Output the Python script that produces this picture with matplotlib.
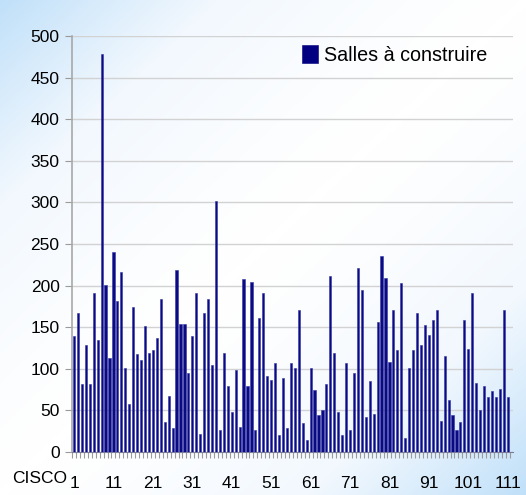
import numpy as np
import matplotlib.pyplot as plt
from matplotlib.colors import LinearSegmentedColormap

# Data (one bar per site, 1..111)
salles = [139, 167, 82, 129, 82, 191, 135, 478, 201, 113,
          240, 182, 216, 101, 58, 174, 118, 111, 151, 119,
          123, 137, 184, 36, 67, 29, 219, 154, 154, 95,
          139, 191, 22, 167, 184, 105, 302, 26, 119, 79,
          48, 98, 30, 208, 79, 204, 26, 161, 191, 91,
          86, 107, 20, 89, 29, 107, 101, 171, 35, 14,
          101, 74, 44, 50, 82, 212, 119, 48, 20, 107,
          26, 95, 221, 195, 42, 85, 46, 156, 236, 209,
          108, 171, 122, 203, 17, 101, 122, 167, 128, 153,
          141, 159, 171, 37, 115, 63, 44, 26, 36, 159,
          124, 191, 83, 50, 79, 66, 73, 66, 76, 171, 66]
sites = np.arange(1, len(salles) + 1)
tick_sites = list(range(1, 112, 10))
y_ticks = list(range(0, 501, 50))

plt.rcParams['font.family'] = ['Liberation Sans', 'DejaVu Sans']

fig = plt.figure(figsize=(5.26, 4.95), dpi=100)

# diagonal blue-white-blue background
bg = fig.add_axes([0, 0, 1, 1], zorder=0)
xx, yy = np.meshgrid(np.linspace(0, 1, 300), np.linspace(0, 1, 300))
t = np.abs((xx + yy) / 2 - 0.5) * 2
cmap = LinearSegmentedColormap.from_list('bg', ['#ffffff', '#f2f8fe', '#c0e0f9'])
bg.imshow(t ** 1.3, cmap=cmap, aspect='auto', extent=[0, 1, 0, 1], origin='upper')
bg.axis('off')

ax = fig.add_axes([0.137, 0.087, 0.838, 0.840], zorder=1)
ax.patch.set_alpha(0)

ax.bar(sites, salles, width=0.55, color='#0a0a82', edgecolor='#3535a5',
       linewidth=0.4, label='Salles à construire', zorder=3)

ax.set_ylim(0, 500)
ax.set_xlim(0.7, 112.3)
ax.set_yticks(y_ticks)
ax.yaxis.grid(True, color='#d2d2d2', linewidth=1)
ax.set_axisbelow(True)

ax.set_xticks(tick_sites)
ax.set_xticklabels([str(s) for s in tick_sites])
ax.set_xticks(np.arange(0.5, 112.5, 1), minor=True)
ax.tick_params(axis='x', which='major', length=0, pad=17, labelsize=12.5)
ax.tick_params(axis='x', which='minor', length=4, color='#9a9a9a', width=0.8)
ax.tick_params(axis='y', length=5, color='#9a9a9a', labelsize=12.5, pad=4)

for side in ['top', 'right']:
    ax.spines[side].set_visible(False)
ax.spines['left'].set_color('#a8a8a8')
ax.spines['left'].set_linewidth(1.2)
ax.spines['bottom'].set_color('#7a7a9a')

fig.text(0.075, 0.034, 'CISCO', fontsize=12.5, ha='center', va='center')

leg = ax.legend(loc='upper left', bbox_to_anchor=(0.522, 0.978), frameon=False,
                fontsize=14.2, handlelength=0.78, handleheight=1.0, handletextpad=0.35,
                borderpad=0, borderaxespad=0)
for h in leg.legend_handles:
    h.set_color('#000080')

plt.savefig('out.png', dpi=100)
